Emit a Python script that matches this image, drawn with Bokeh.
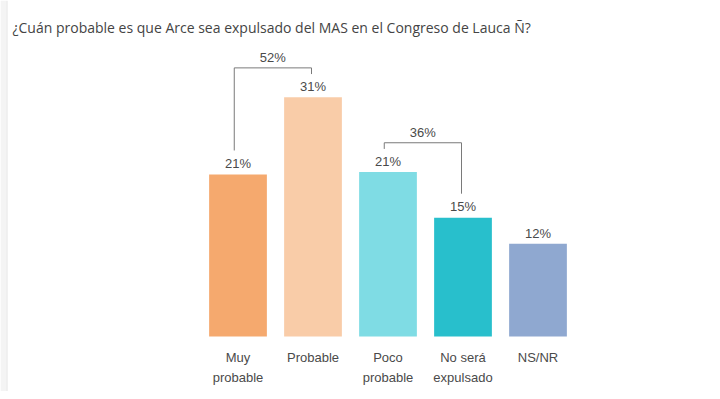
from bokeh.plotting import figure
from bokeh.models import Range1d, ColumnDataSource, Label, BoxAnnotation, Span
from bokeh.embed import file_html
from bokeh.resources import INLINE
from bokeh.core.properties import value

# ---- data ----
title_text = "¿Cuán probable es que Arce sea expulsado del MAS en el Congreso de Lauca Ñ?"
categories = ["Muy\nprobable", "Probable", "Poco\nprobable", "No será\nexpulsado", "NS/NR"]
values = [21.0, 31.0, 21.3, 15.4, 12.0]
value_labels = ["21%", "31%", "21%", "15%", "12%"]
colors = ["#F5A96E", "#F9CCA8", "#7FDCE4", "#28BFCC", "#8FA8D0"]
bracket_pairs = [(0, 1), (2, 3)]
bracket_labels = ["52%", "36%"]

# ---- figure ----
W, H = 712, 391
px_per_x = 75.0
x_start = -237.5 / px_per_x
px_per_y = 7.719
base_px = 336
y_start = -(H - base_px) / px_per_y
y_end = base_px / px_per_y

p = figure(width=W, height=H, output_backend="svg", toolbar_location=None,
           x_range=Range1d(x_start, x_start + W / px_per_x),
           y_range=Range1d(y_start, y_end),
           x_axis_location=None, y_axis_location=None, min_border=0)
p.outline_line_color = None
p.grid.visible = False
p.background_fill_color = "white"
p.border_fill_color = "white"

# light page border strip on the left
p.add_layout(BoxAnnotation(left=x_start, right=x_start + 6 / px_per_x,
                           fill_color="#f4f4f4", fill_alpha=1, line_color=None))
p.add_layout(Span(location=x_start + 6.5 / px_per_x, dimension="height",
                  line_color="#e4e4e4", line_width=1))

xs = list(range(len(categories)))
src = ColumnDataSource(dict(x=xs, top=values, color=colors, lab=value_labels,
                            cat=categories,
                            ly=[v + 1.4 for v in values]))

p.vbar(x="x", top="top", bottom=0, width=0.77, color="color", line_color=None, source=src)

font = value("Liberation Sans")
txt_color = "#4a4a4a"
p.text(x="x", y="ly", text="lab", source=src, text_align="center", text_baseline="middle",
       text_font=font, text_font_size="13px", text_color=txt_color)
p.text(x="x", y=-1.8, text="cat", source=src, text_align="center", text_baseline="top",
       text_font=font, text_font_size="13px", text_color=txt_color, text_line_height=1.28)

# brackets
bxs, bys, blx, bly = [], [], [], []
for (i, j) in bracket_pairs:
    vi, vj = values[i], values[j]
    h = max(vi, vj) + 3.8
    li = h - 0.8 if vi >= vj else vi + 3.1
    lj = h - 0.8 if vj > vi else vj + 3.1
    xl, xr = i - 0.05, j - 0.02
    bxs.append([xl, xl, xr, xr])
    bys.append([li, h, h, lj])
    blx.append((xl + xr) / 2)
    bly.append(h + 1.35)
p.multi_line(xs=bxs, ys=bys, line_color="#7a7a7a", line_width=1)
p.text(x=blx, y=bly, text=bracket_labels, text_align="center", text_baseline="middle",
       text_font=font, text_font_size="13px", text_color=txt_color)

p.add_layout(Label(x=x_start + 12 / px_per_x, y=(base_px - 26.7) / px_per_y, text=title_text,
                   text_font="Open Sans", text_font_size="14px", text_color="#444444",
                   text_baseline="alphabetic"))

open("out.html", "w").write(file_html(p, INLINE))
